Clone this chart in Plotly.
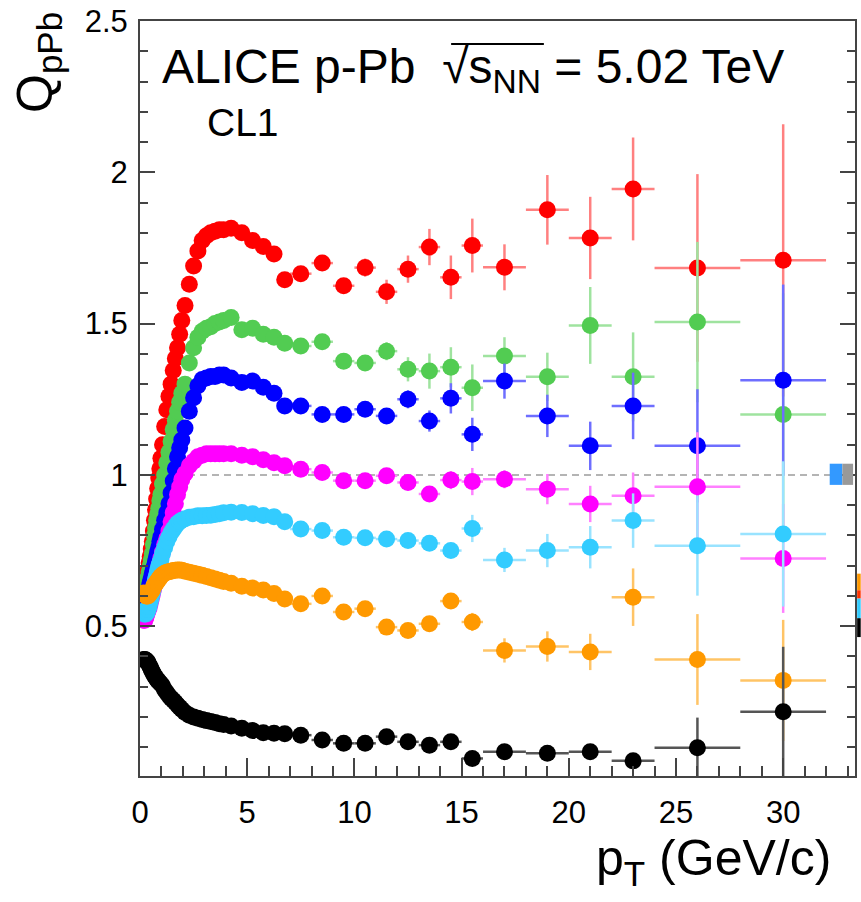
import plotly.graph_objects as go

# pT bin edges (GeV/c)
pt_edges = [0.15, 0.2, 0.25, 0.3, 0.35, 0.4, 0.45, 0.5, 0.55, 0.6, 0.65, 0.7, 0.75, 0.8,
            0.85, 0.9, 0.95, 1.0,
            1.1, 1.2, 1.3, 1.4, 1.5, 1.6, 1.7, 1.8, 1.9, 2.0,
            2.2, 2.4, 2.6, 2.8, 3.0, 3.2, 3.4, 3.6, 3.8, 4.0,
            4.5, 5.0, 5.5, 6.0, 6.5, 7.0,
            8.0, 9.0, 10.0, 11.0, 12.0, 13.0, 14.0, 15.0, 16.0,
            18.0, 20.0, 22.0, 24.0, 28.0, 32.0]

q_red = [0.60, 0.62, 0.64, 0.66, 0.685, 0.71, 0.73, 0.755, 0.78, 0.815, 0.85, 0.885, 0.92, 0.955, 0.99, 1.02, 1.055,
         1.10, 1.16, 1.215, 1.26, 1.30, 1.345, 1.385, 1.42, 1.465, 1.51,
         1.56, 1.63, 1.69, 1.74, 1.775, 1.79, 1.80, 1.805, 1.81, 1.81,
         1.815, 1.80, 1.775, 1.755, 1.73, 1.645,
         1.665, 1.70, 1.625, 1.685, 1.605, 1.68, 1.753, 1.653, 1.758,
         1.686, 1.876, 1.783, 1.945, 1.684, 1.709]
q_green = [0.59, 0.60, 0.62, 0.64, 0.66, 0.68, 0.70, 0.72, 0.74, 0.77, 0.80, 0.825, 0.85, 0.87, 0.89, 0.915, 0.935,
           0.97, 1.00, 1.04, 1.075, 1.11, 1.15, 1.18, 1.21, 1.24, 1.27,
           1.30, 1.37, 1.42, 1.455, 1.475, 1.485, 1.49, 1.50, 1.505, 1.51,
           1.52, 1.48, 1.485, 1.465, 1.455, 1.435,
           1.426, 1.44, 1.376, 1.37, 1.409, 1.349, 1.343, 1.356, 1.288,
           1.393, 1.324, 1.494, 1.324, 1.505, 1.20]
q_blue = [0.57, 0.575, 0.585, 0.60, 0.615, 0.63, 0.645, 0.66, 0.675, 0.69, 0.70, 0.715, 0.73, 0.745, 0.76, 0.78, 0.795,
          0.82, 0.85, 0.875, 0.905, 0.94, 0.98, 1.02, 1.06, 1.09, 1.115,
          1.155, 1.21, 1.255, 1.295, 1.315, 1.32, 1.325, 1.325, 1.33, 1.33,
          1.32, 1.305, 1.31, 1.29, 1.27, 1.228,
          1.228, 1.20, 1.20, 1.217, 1.195, 1.25, 1.178, 1.253, 1.134,
          1.31, 1.195, 1.096, 1.228, 1.096, 1.313]
q_magenta = [0.52, 0.52, 0.53, 0.54, 0.55, 0.56, 0.575, 0.59, 0.605, 0.62, 0.635, 0.65, 0.665, 0.68, 0.695, 0.71, 0.725,
             0.745, 0.77, 0.79, 0.815, 0.845, 0.875, 0.905, 0.935, 0.96, 0.985,
             1.005, 1.03, 1.045, 1.06, 1.065, 1.07, 1.07, 1.07, 1.07, 1.07,
             1.07, 1.065, 1.06, 1.05, 1.04, 1.03,
             1.019, 1.008, 0.981, 0.981, 0.997, 0.975, 0.937, 0.983, 0.978,
             0.986, 0.953, 0.904, 0.931, 0.961, 0.724]
q_cyan = [0.55, 0.54, 0.54, 0.545, 0.555, 0.565, 0.58, 0.595, 0.61, 0.625, 0.64, 0.655, 0.67, 0.685, 0.70, 0.71, 0.72,
          0.74, 0.76, 0.78, 0.795, 0.81, 0.82, 0.83, 0.84, 0.845, 0.85,
          0.855, 0.86, 0.862, 0.865, 0.865, 0.866, 0.867, 0.869, 0.872, 0.875,
          0.877, 0.876, 0.872, 0.866, 0.862, 0.845,
          0.821, 0.816, 0.794, 0.792, 0.788, 0.783, 0.774, 0.75, 0.823,
          0.719, 0.75, 0.761, 0.849, 0.766, 0.805]
q_orange = [0.61, 0.605, 0.60, 0.60, 0.60, 0.605, 0.61, 0.615, 0.62, 0.63, 0.635, 0.64, 0.645, 0.65, 0.655, 0.66, 0.665,
            0.67, 0.675, 0.678, 0.68, 0.682, 0.684, 0.685, 0.686, 0.686, 0.685,
            0.682, 0.678, 0.675, 0.672, 0.668, 0.664, 0.66, 0.656, 0.652, 0.648,
            0.642, 0.632, 0.626, 0.62, 0.608, 0.59,
            0.574, 0.60, 0.547, 0.558, 0.497, 0.486, 0.508, 0.583, 0.514,
            0.42, 0.433, 0.415, 0.596, 0.39, 0.321]
q_black = [0.39, 0.39, 0.388, 0.385, 0.38, 0.372, 0.365, 0.357, 0.35, 0.343, 0.337, 0.331, 0.326, 0.321, 0.317, 0.313, 0.31,
           0.303, 0.29, 0.28, 0.27, 0.262, 0.255, 0.248, 0.24, 0.232, 0.225,
           0.215, 0.206, 0.20, 0.196, 0.192, 0.188, 0.185, 0.182, 0.178, 0.175,
           0.17, 0.163, 0.155, 0.148, 0.146, 0.145,
           0.14, 0.124, 0.113, 0.113, 0.135, 0.118, 0.107, 0.118, 0.063,
           0.085, 0.08, 0.085, 0.055, 0.098, 0.217]

# statistical uncertainties for the high-pT bins (7.5 ... 30 GeV/c)
err_red = [0.02, 0.02, 0.025, 0.03, 0.04, 0.045, 0.06, 0.072, 0.089, 0.076, 0.115, 0.136, 0.17, 0.31, 0.45]
err_green = [0.015, 0.02, 0.02, 0.025, 0.03, 0.04, 0.058, 0.066, 0.077, 0.062, 0.08, 0.127, 0.147, 0.265, 0.40]
err_blue = [0.012, 0.015, 0.015, 0.02, 0.02, 0.03, 0.035, 0.05, 0.055, 0.058, 0.07, 0.08, 0.11, 0.187, 0.316]
err_magenta = [0.01, 0.01, 0.012, 0.012, 0.015, 0.018, 0.02, 0.03, 0.045, 0.03, 0.05, 0.06, 0.077, 0.18, 0.18]
err_cyan = [0.01, 0.01, 0.01, 0.012, 0.012, 0.015, 0.018, 0.02, 0.045, 0.04, 0.055, 0.07, 0.09, 0.165, 0.24]
err_orange = [0.01, 0.01, 0.012, 0.012, 0.015, 0.015, 0.02, 0.025, 0.03, 0.04, 0.05, 0.06, 0.095, 0.15, 0.20]
err_black = [0.005, 0.005, 0.005, 0.005, 0.006, 0.006, 0.007, 0.008, 0.008, 0.008, 0.01, 0.01, 0.012, 0.10, 0.215]

# (marker colour, error-bar colour, values, uncertainties), drawn in this order
series = [
    ("#ff0000", "#ff8080", q_red, err_red),
    ("#52cc52", "#9fe39f", q_green, err_green),
    ("#0000ff", "#6e6eff", q_blue, err_blue),
    ("#ff00ff", "#ff80ff", q_magenta, err_magenta),
    ("#33ccff", "#99e3ff", q_cyan, err_cyan),
    ("#ff9900", "#ffc466", q_orange, err_orange),
    ("#000000", "#555555", q_black, err_black),
]

pt = [(a + b) / 2 for a, b in zip(pt_edges[:-1], pt_edges[1:])]
pt_half = [(b - a) / 2 for a, b in zip(pt_edges[:-1], pt_edges[1:])]

FONT = "Liberation Sans, Arial, Helvetica, sans-serif"
AXIS_COL = "#444444"

fig = go.Figure()

# reference line at Q = 1
fig.add_shape(type="line", xref="x", yref="y", x0=0, x1=33.35, y0=1, y1=1,
              line=dict(color="#b4b4b4", width=2, dash="7px,5px"), layer="below")

for color, bar_color, q, err in series:
    yerr = [0.0] * (len(q) - len(err)) + err
    fig.add_trace(go.Scatter(
        x=pt, y=q, mode="markers",
        marker=dict(symbol="circle", size=17, color=color, line=dict(width=0)),
        error_x=dict(type="data", array=pt_half, color=bar_color, thickness=2.5, width=0),
        error_y=dict(type="data", array=yerr, color=bar_color, thickness=2.5, width=0),
        hoverinfo="x+y",
    ))

# normalisation uncertainty boxes at Q = 1
fig.add_shape(type="rect", xref="x", yref="y", x0=32.17, x1=32.76, y0=0.967, y1=1.037,
              fillcolor="#3399ff", line=dict(width=0))
fig.add_shape(type="rect", xref="x", yref="y", x0=32.76, x1=33.26, y0=0.967, y1=1.037,
              fillcolor="#999999", line=dict(width=0))

# boxes just outside the right frame edge
for c, y0, y1 in [("#ff9900", 0.246, 0.268), ("#ff3300", 0.235, 0.246),
                  ("#33ccff", 0.209, 0.235), ("#000000", 0.184, 0.209)]:
    fig.add_shape(type="rect", xref="paper", yref="paper", x0=1.003, x1=1.008,
                  y0=y0, y1=y1, fillcolor=c, line=dict(width=0))

# texts
fig.add_annotation(xref="paper", yref="paper", x=0.028, y=0.935, xanchor="left", yanchor="middle",
                   text="ALICE p-Pb  \u221as<sub>NN</sub> = 5.02 TeV", showarrow=False,
                   font=dict(family=FONT, size=48, color="black"))
fig.add_annotation(xref="paper", yref="paper", x=0.0907, y=0.866, xanchor="left", yanchor="middle",
                   text="CL1", showarrow=False, font=dict(family=FONT, size=39, color="black"))
# overline of the square root
fig.add_shape(type="line", xref="paper", yref="paper", x0=(452 - 140) / 717, x1=(545 - 140) / 717,
              y0=(776 - 42) / 757, y1=(776 - 42) / 757, line=dict(color="black", width=2))

fig.add_annotation(xref="paper", yref="paper", x=0.969, y=-0.1136, xanchor="right", yanchor="middle",
                   text="p<sub>T</sub> (GeV/c)", showarrow=False, font=dict(family=FONT, size=50, color="black"))
fig.add_annotation(xref="paper", yref="paper", x=-0.142, y=1.0145, xanchor="center", yanchor="top",
                   text="Q<sub>pPb</sub>", textangle=-90, showarrow=False,
                   font=dict(family=FONT, size=50, color="black"))

fig.update_layout(
    width=861, height=902,
    margin=dict(l=140, r=4, t=19, b=126),
    paper_bgcolor="white", plot_bgcolor="white",
    showlegend=False,
    font=dict(family=FONT, color="black"),
    xaxis=dict(range=[0, 33.35], tickmode="linear", tick0=0, dtick=5,
               ticks="inside", ticklen=18, tickwidth=2, tickcolor=AXIS_COL,
               showline=True, linecolor=AXIS_COL, linewidth=2, mirror=True,
               showgrid=False, zeroline=False,
               tickfont=dict(family=FONT, size=31, color="black"), ticklabelstandoff=8,
               minor=dict(tickmode="linear", tick0=0, dtick=1, ticks="inside", ticklen=10,
                          tickwidth=2, tickcolor=AXIS_COL, showgrid=False)),
    yaxis=dict(range=[0.005, 2.5], tickmode="linear", tick0=0, dtick=0.5,
               ticks="inside", ticklen=15, tickwidth=2, tickcolor=AXIS_COL,
               showline=True, linecolor=AXIS_COL, linewidth=2, mirror="ticks",
               showgrid=False, zeroline=False,
               tickfont=dict(family=FONT, size=31, color="black"), ticklabelstandoff=4,
               minor=dict(tickmode="linear", tick0=0, dtick=0.1, ticks="inside", ticklen=8,
                          tickwidth=2, tickcolor=AXIS_COL, showgrid=False)),
)

fig.write_html("out.html")
